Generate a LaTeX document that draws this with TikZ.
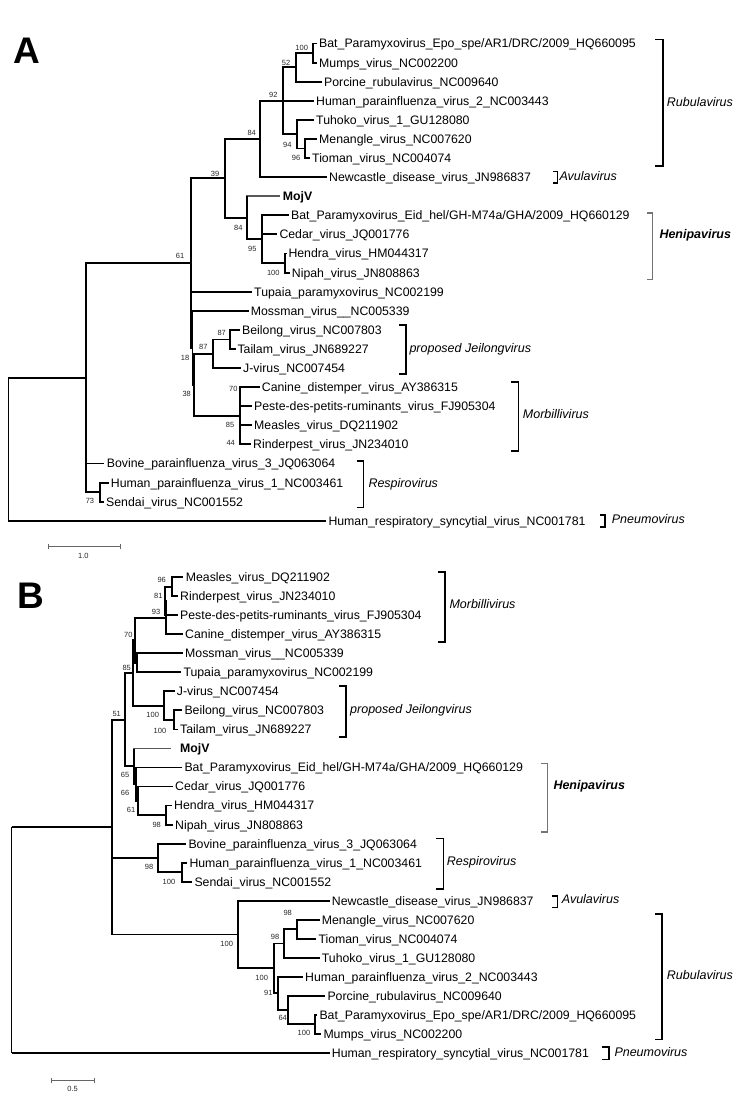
\documentclass[tikz,border=0pt]{standalone}
\usepackage{fontspec}
\setmainfont{Liberation Sans}
\newcommand\mkleaf[5]{\coordinate (#1) at (#2,#4); \node[tax] (#1-t) at (#3,#4+4.4) {#5};}
\newcommand\bsl[4]{\node[bs] (#1) at (#2,#3) {#4};}
\newcommand\brak[5]{\draw[brk,#5] (#2,#3) -- (#1,#3) -- (#1,#4) -- (#2,#4);}
\newcommand\genus[4]{\node[gen] (#1) at (#2,#3+4.5) {#4};}
\begin{document}
\begin{tikzpicture}[x=1pt,y=-1pt,
  br/.style={line width=1.9pt, line join=miter},
  rootv/.style={line width=1.1pt},
  tax/.style={anchor=base west, inner sep=0pt, font=\fontsize{12.3}{14}\selectfont},
  bs/.style={inner sep=0pt, font=\fontsize{7.5}{8}\selectfont, text=black!85},
  gen/.style={anchor=base west, inner sep=0pt, font=\fontsize{12.5}{14}\selectfont\itshape},
  brk/.style={line width=1.6pt},
  scl/.style={line width=0.8pt, draw=black!60},
  panel/.style={anchor=base west, inner sep=0pt, font=\fontsize{37}{40}\selectfont\bfseries}]
\useasboundingbox (0,0) rectangle (750,1101);
\fill[white] (0,0) rectangle (750,1101);

% ================= Panel A =================
\node[panel] (lblA) at (13,63) {A};
\mkleaf{a0}{316.5}{319}{43.5}{Bat\_Paramyxovirus\_Epo\_spe/AR1/DRC/2009\_HQ660095}
\mkleaf{a1}{316.5}{319}{62.6}{Mumps\_virus\_NC002200}
\mkleaf{a2}{322}{324}{81.7}{Porcine\_rubulavirus\_NC009640}
\mkleaf{a3}{314}{316}{100.8}{Human\_parainfluenza\_virus\_2\_NC003443}
\mkleaf{a4}{314}{316}{119.9}{Tuhoko\_virus\_1\_GU128080}
\mkleaf{a5}{317}{319}{139.0}{Menangle\_virus\_NC007620}
\mkleaf{a6}{310}{312}{158.0}{Tioman\_virus\_NC004074}
\mkleaf{a7}{327}{329}{177.1}{Newcastle\_disease\_virus\_JN986837}
\mkleaf{a8}{280}{282.7}{196.2}{\bfseries MojV}
\mkleaf{a9}{289}{291}{215.3}{Bat\_Paramyxovirus\_Eid\_hel/GH-M74a/GHA/2009\_HQ660129}
\mkleaf{a10}{277}{279.3}{234.4}{Cedar\_virus\_JQ001776}
\mkleaf{a11}{286.5}{288.3}{253.5}{Hendra\_virus\_HM044317}
\mkleaf{a12}{290}{291.7}{272.6}{Nipah\_virus\_JN808863}
\mkleaf{a13}{252}{254}{291.7}{Tupaia\_paramyxovirus\_NC002199}
\mkleaf{a14}{248.5}{250.7}{310.8}{Mossman\_virus\_\_NC005339}
\mkleaf{a15}{240}{242}{329.9}{Beilong\_virus\_NC007803}
\mkleaf{a16}{235.5}{237.3}{349.0}{Tailam\_virus\_JN689227}
\mkleaf{a17}{241}{243}{368.0}{J-virus\_NC007454}
\mkleaf{a18}{259.5}{261.7}{387.1}{Canine\_distemper\_virus\_AY386315}
\mkleaf{a19}{252}{254}{406.2}{Peste-des-petits-ruminants\_virus\_FJ905304}
\mkleaf{a20}{252}{254}{425.3}{Measles\_virus\_DQ211902}
\mkleaf{a21}{251}{253}{444.4}{Rinderpest\_virus\_JN234010}
\mkleaf{a22}{104}{106.7}{463.5}{Bovine\_parainfluenza\_virus\_3\_JQ063064}
\mkleaf{a23}{108.5}{110.7}{482.6}{Human\_parainfluenza\_virus\_1\_NC003461}
\mkleaf{a24}{104}{106}{501.7}{Sendai\_virus\_NC001552}
\mkleaf{a25}{326}{328.3}{520.8}{Human\_respiratory\_syncytial\_virus\_NC001781}

\coordinate (nA100) at (313.3,53.05);
\coordinate (nA52) at (296,67.4);
\coordinate (nA96) at (305,148.5);
\coordinate (nA94) at (296.7,134.2);
\coordinate (nA92) at (282.7,100.8);
\coordinate (nA84r) at (260,139.0);
\coordinate (nAHN) at (285,263.05);
\coordinate (nA95) at (261.7,239.2);
\coordinate (nA84h) at (246.7,217.7);
\coordinate (nA39) at (225,178.35);
\coordinate (nA87i) at (230,339.45);
\coordinate (nA87o) at (213.3,353.7);
\coordinate (nAMor) at (240,415.75);
\coordinate (nA38) at (194,384.7);
\coordinate (nA18) at (192.5,347.8);
\coordinate (nA61) at (190.7,263.1);
\coordinate (nA73) at (100,492.15);
\coordinate (nAR1) at (86,377.6);
\coordinate (rootA) at (8.3,377.6);
\coordinate (rootAb) at (8.3,520.8);

\draw[br] (nA100) |- (a0);  \draw[br] (nA100) |- (a1);
\draw[br] (nA52) |- (nA100); \draw[br] (nA52) |- (a2);
\draw[br] (nA96) |- (a5);  \draw[br] (nA96) |- (a6);
\draw[br] (nA94) |- (a4);  \draw[br] (nA94) |- (nA96);
\draw[br] (nA92) |- (nA52); \draw[br] (nA92) |- (a3); \draw[br] (nA92) |- (nA94);
\draw[br] (nA84r) |- (nA92); \draw[br] (nA84r) |- (a7);
\draw[br] (nAHN) |- (a11); \draw[br] (nAHN) |- (a12);
\draw[br] (nA95) |- (a9); \draw[br] (nA95) |- (a10); \draw[br] (nA95) |- (nAHN);
\draw[br,draw=black!65] (nA84h) |- (a8); \draw[br] (nA84h) |- (nA95);
\draw[br] (nA84h) -- ++(0,-21.5);
\draw[br] (nA39) |- (nA84r); \draw[br] (nA39) |- (nA84h);
\draw[br] (nA87i) |- (a15); \draw[br] (nA87i) |- (a16);
\draw[br] (nA87o) |- (nA87i); \draw[br] (nA87o) |- (a17);
\draw[br] (nAMor) |- (a18); \draw[br] (nAMor) |- (a19); \draw[br] (nAMor) |- (a20); \draw[br] (nAMor) |- (a21);
\draw[br] (nA38) |- (nA87o); \draw[br] (nA38) |- (nAMor);
\draw[br] (nA18) |- (a14); \draw[br] (nA18) |- (nA38);
\draw[br] (nA61) |- (nA39); \draw[br] (nA61) |- (a13); \draw[br] (nA61) |- (nA18);
\draw[br] (nA73) |- (a23); \draw[br] (nA73) |- (a24);
\draw[br] (nAR1) |- (nA61); \draw[br] (nAR1) |- (a22); \draw[br] (nAR1) |- (nA73);
\draw[br] (rootA) -- (nAR1); \draw[br] (rootAb) -- (a25);
\draw[rootv] (rootA) -- (rootAb);

\bsl{bA1}{301.7}{48.3}{100}
\bsl{bA2}{286}{62.7}{52}
\bsl{bA3}{273.3}{95}{92}
\bsl{bA4}{251.7}{133.3}{84}
\bsl{bA5}{287.3}{145}{94}
\bsl{bA6}{296}{158.3}{96}
\bsl{bA7}{215}{174}{39}
\bsl{bA8}{238.3}{227.7}{84}
\bsl{bA9}{252.3}{249}{95}
\bsl{bA10}{273.3}{272.7}{100}
\bsl{bA11}{180}{256}{61}
\bsl{bA12}{221.7}{332.7}{87}
\bsl{bA13}{203.3}{346.7}{87}
\bsl{bA14}{185}{357.7}{18}
\bsl{bA15}{186.7}{394}{38}
\bsl{bA16}{233.3}{389.3}{70}
\bsl{bA17}{230}{425}{85}
\bsl{bA18}{230.7}{443.3}{44}
\bsl{bA19}{90}{500.7}{73}

\brak{662.7}{655}{39.3}{165.7}{}
\genus{gA1}{666.7}{101.7}{Rubulavirus}
\brak{557.3}{553}{171.5}{183}{}
\genus{gA2}{559.3}{175.7}{Avulavirus}
\brak{652.3}{647}{212.7}{279.3}{draw=black!55}
\genus{gA3}{659.3}{234.3}{\bfseries Henipavirus}
\brak{406}{399.3}{325}{374}{}
\genus{gA4}{409.3}{348.3}{proposed Jeilongvirus}
\brak{518.3}{511}{381.7}{450.7}{}
\genus{gA5}{522.7}{414.3}{Morbillivirus}
\brak{363.3}{356.7}{460.7}{507.3}{}
\genus{gA6}{368.3}{483.3}{Respirovirus}
\brak{605}{600}{515}{526.7}{}
\genus{gA7}{611.7}{519.3}{Pneumovirus}

\coordinate (sA1) at (48.3,546.7); \coordinate (sA2) at (120,546.7);
\draw[scl] (sA1) -- (sA2);
\draw[scl] ([yshift=-2.5pt]sA1) -- ([yshift=2.5pt]sA1);
\draw[scl] ([yshift=-2.5pt]sA2) -- ([yshift=2.5pt]sA2);
\node[bs] (sAl) at (83.3,556) {1.0};

% ================= Panel B =================
\node[panel] (lblB) at (17,608) {B};
\mkleaf{b0}{182.5}{185.7}{577.3}{Measles\_virus\_DQ211902}
\mkleaf{b1}{177.5}{180}{596.3}{Rinderpest\_virus\_JN234010}
\mkleaf{b2}{177.5}{180}{615.3}{Peste-des-petits-ruminants\_virus\_FJ905304}
\mkleaf{b3}{183}{185}{634.4}{Canine\_distemper\_virus\_AY386315}
\mkleaf{b4}{182.5}{185}{653.4}{Mossman\_virus\_\_NC005339}
\mkleaf{b5}{181}{183.3}{672.4}{Tupaia\_paramyxovirus\_NC002199}
\mkleaf{b6}{174.5}{176.7}{691.4}{J-virus\_NC007454}
\mkleaf{b7}{182}{184.3}{710.4}{Beilong\_virus\_NC007803}
\mkleaf{b8}{178}{180}{729.5}{Tailam\_virus\_JN689227}
\mkleaf{b9}{171}{180}{748.5}{\bfseries MojV}
\mkleaf{b10}{182}{184.3}{767.5}{Bat\_Paramyxovirus\_Eid\_hel/GH-M74a/GHA/2009\_HQ660129}
\mkleaf{b11}{172.5}{175}{786.5}{Cedar\_virus\_JQ001776}
\mkleaf{b12}{172}{174}{805.5}{Hendra\_virus\_HM044317}
\mkleaf{b13}{173}{175}{824.6}{Nipah\_virus\_JN808863}
\mkleaf{b14}{186}{188.3}{843.6}{Bovine\_parainfluenza\_virus\_3\_JQ063064}
\mkleaf{b15}{187}{189.3}{862.6}{Human\_parainfluenza\_virus\_1\_NC003461}
\mkleaf{b16}{192}{194.3}{881.6}{Sendai\_virus\_NC001552}
\mkleaf{b17}{329.5}{331.7}{900.6}{Newcastle\_disease\_virus\_JN986837}
\mkleaf{b18}{319.5}{321.7}{919.7}{Menangle\_virus\_NC007620}
\mkleaf{b19}{316}{318.3}{938.7}{Tioman\_virus\_NC004074}
\mkleaf{b20}{319.5}{321.7}{957.7}{Tuhoko\_virus\_1\_GU128080}
\mkleaf{b21}{303}{305}{976.7}{Human\_parainfluenza\_virus\_2\_NC003443}
\mkleaf{b22}{325}{327.3}{995.7}{Porcine\_rubulavirus\_NC009640}
\mkleaf{b23}{317}{319.3}{1014.8}{Bat\_Paramyxovirus\_Epo\_spe/AR1/DRC/2009\_HQ660095}
\mkleaf{b24}{321}{323.3}{1033.8}{Mumps\_virus\_NC002200}
\mkleaf{b25}{329.5}{331.7}{1052.8}{Human\_respiratory\_syncytial\_virus\_NC001781}

\coordinate (nB96) at (172.3,586.8);
\coordinate (nB81) at (165,601.05);
\coordinate (nB93) at (165.7,617.7);
\coordinate (nBMT) at (136.7,662.9);
\coordinate (nB70) at (135,640.3);
\coordinate (nBJi) at (174,719.95);
\coordinate (nBJo) at (164.3,705.7);
\coordinate (nB85) at (133.3,673.0);
\coordinate (nBHN) at (165.7,815.05);
\coordinate (nB61) at (137.7,800.8);
\coordinate (nB66) at (136,784.15);
\coordinate (nB65) at (134,766.3);
\coordinate (nB51) at (125,719.65);
\coordinate (nBHS) at (181.7,872.1);
\coordinate (nBRes) at (157.7,857.85);
\coordinate (nBMTm) at (296.7,929.2);
\coordinate (nB98r) at (284.3,943.45);
\coordinate (nBBM) at (315,1024.3);
\coordinate (nB64) at (288.3,1010);
\coordinate (nB91) at (278.3,993.35);
\coordinate (nBRub) at (274,968.4);
\coordinate (nBAR) at (237.7,934.5);
\coordinate (nBMid) at (111.7,827.1);
\coordinate (rootB) at (11.7,827.1);
\coordinate (rootBb) at (11.7,1052.8);

\draw[br] (nB96) |- (b0); \draw[br] (nB96) |- (b1);
\draw[br] (nB81) |- (nB96); \draw[br] (nB81) |- (b2);
\draw[br] (nB93) |- (nB81); \draw[br] (nB93) |- (b3);
\draw[br] (nBMT) |- (b4); \draw[br] (nBMT) |- (b5);
\draw[br] (nB70) |- (nB93); \draw[br] (nB70) |- (nBMT);
\draw[br] (nBJi) |- (b7); \draw[br] (nBJi) |- (b8);
\draw[br] (nBJo) |- (b6); \draw[br] (nBJo) |- (nBJi);
\draw[br] (nB85) |- (nB70); \draw[br] (nB85) |- (nBJo);
\draw[br] (nBHN) |- (b12); \draw[br] (nBHN) |- (b13);
\draw[br] (nB61) |- (b11); \draw[br] (nB61) |- (nBHN);
\draw[br] (nB66) |- (b10); \draw[br] (nB66) |- (nB61);
\draw[br,draw=black!65] (nB65) |- (b9); \draw[br] (nB65) |- (nB66);
\draw[br] (nB65) -- ++(0,-17.8);
\draw[br] (nB51) |- (nB85); \draw[br] (nB51) |- (nB65);
\draw[br] (nBHS) |- (b15); \draw[br] (nBHS) |- (b16);
\draw[br] (nBRes) |- (b14); \draw[br] (nBRes) |- (nBHS);
\draw[br] (nBMTm) |- (b18); \draw[br] (nBMTm) |- (b19);
\draw[br] (nB98r) |- (nBMTm); \draw[br] (nB98r) |- (b20);
\draw[br] (nBBM) |- (b23); \draw[br] (nBBM) |- (b24);
\draw[br] (nB64) |- (b22); \draw[br] (nB64) |- (nBBM);
\draw[br] (nB91) |- (b21); \draw[br] (nB91) |- (nB64);
\draw[br] (nBRub) |- (nB98r); \draw[br] (nBRub) |- (nB91);
\draw[br] (nBAR) |- (b17); \draw[br] (nBAR) |- (nBRub);
\draw[br] (nBMid) |- (nB51); \draw[br] (nBMid) |- (nBRes); \draw[br] (nBMid) |- (nBAR);
\draw[br] (rootB) -- (nBMid); \draw[br] (rootBb) -- (b25);
\draw[rootv] (rootB) -- (rootBb);

\bsl{bB1}{161.7}{580}{96}
\bsl{bB2}{158.3}{595.7}{81}
\bsl{bB3}{156}{611.7}{93}
\bsl{bB4}{128.3}{635}{70}
\bsl{bB5}{126.7}{667.7}{85}
\bsl{bB6}{152.7}{715}{100}
\bsl{bB7}{160}{730.7}{100}
\bsl{bB8}{116.7}{714.3}{51}
\bsl{bB9}{125}{775}{65}
\bsl{bB10}{125}{793.3}{66}
\bsl{bB11}{131}{810}{61}
\bsl{bB12}{156.7}{825}{98}
\bsl{bB13}{149}{867.3}{98}
\bsl{bB14}{169}{881.7}{100}
\bsl{bB15}{226.7}{944}{100}
\bsl{bB16}{287.7}{912.7}{98}
\bsl{bB17}{275}{936.7}{98}
\bsl{bB18}{261.7}{978.3}{100}
\bsl{bB19}{268.3}{993.3}{91}
\bsl{bB20}{282.7}{1018}{64}
\bsl{bB21}{304}{1032.7}{100}

\brak{445}{438.3}{571.7}{641.7}{}
\genus{gB1}{449.3}{604}{Morbillivirus}
\brak{345.7}{339.3}{685.7}{736.7}{}
\genus{gB2}{350}{709}{proposed Jeilongvirus}
\brak{547.3}{540.7}{763.3}{831.7}{draw=black!55}
\genus{gB3}{553.3}{785}{\bfseries Henipavirus}
\brak{443.3}{436}{838.3}{889}{}
\genus{gB4}{446.7}{861}{Respirovirus}
\brak{557.3}{552}{896}{907.3}{}
\genus{gB5}{561.7}{899.3}{Avulavirus}
\brak{661.7}{655}{914}{1039.3}{}
\genus{gB6}{666.7}{975}{Rubulavirus}
\brak{609}{602}{1046.7}{1059.3}{}
\genus{gB7}{614.3}{1051.7}{Pneumovirus}

\coordinate (sB1) at (51,1080); \coordinate (sB2) at (94.3,1080);
\draw[scl] (sB1) -- (sB2);
\draw[scl] ([yshift=-2.5pt]sB1) -- ([yshift=2.5pt]sB1);
\draw[scl] ([yshift=-2.5pt]sB2) -- ([yshift=2.5pt]sB2);
\node[bs] (sBl) at (72.7,1089) {0.5};
\end{tikzpicture}
\end{document}
